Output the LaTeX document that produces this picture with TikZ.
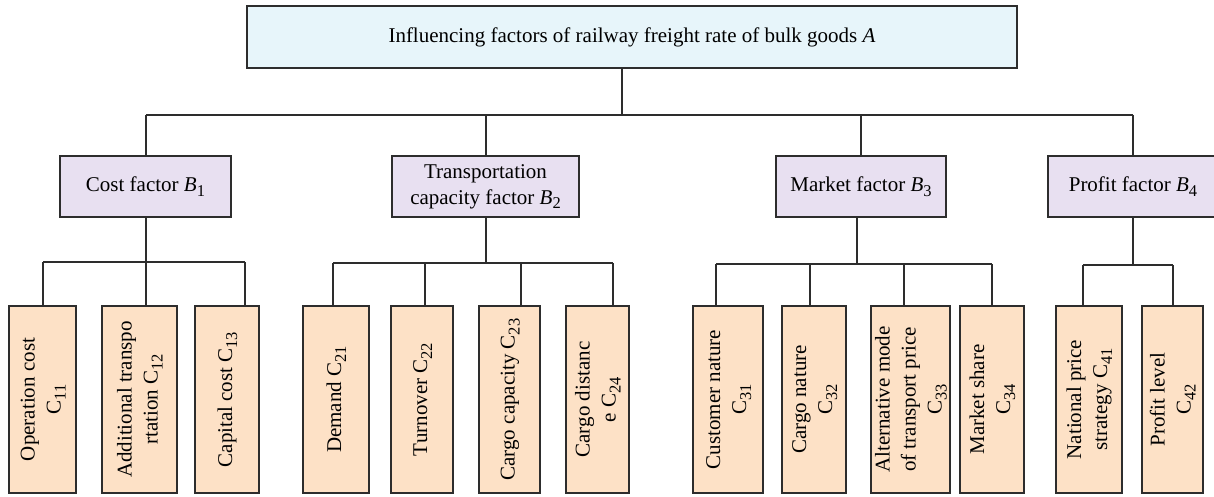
\documentclass[tikz,border=0pt]{standalone}
\usepackage{fontspec}
\usepackage{graphicx}
\setmainfont{Liberation Serif}
\definecolor{afill}{RGB}{231,245,250}
\definecolor{bfill}{RGB}{232,224,241}
\definecolor{cfill}{RGB}{253,225,198}
\definecolor{edge}{RGB}{45,45,45}
% lowered index digits
\newcommand\idx[1]{\raisebox{-0.5ex}{\fontsize{16.5}{16.5}\selectfont #1}}
% vertical label reading bottom to top
\newcommand\vlab[1]{\rotatebox{90}{\begin{tabular}{@{}c@{}}#1\end{tabular}}}
\tikzset{
  base/.style={draw=edge, line width=1.4pt, inner sep=0pt, outer sep=0pt,
    font=\fontsize{21}{26}\selectfont, align=center},
  abox/.style={base, fill=afill, minimum width=770, minimum height=62},
  bbox/.style={base, fill=bfill, minimum height=61},
  cbox/.style={base, fill=cfill, minimum height=187},
  link/.style={draw=edge, line width=1.2pt},
}
\begin{document}
\begin{tikzpicture}[x=1pt, y=-1pt]
\useasboundingbox (0,0) rectangle (1214,497);

% top level
\node[abox] (A) at (632,37) {Influencing factors of railway freight rate of bulk goods \textit{A}};

% second level
\node[bbox, minimum width=171] (B1) at (145.5,186.5) {Cost factor \textit{B}\idx{1}};
\node[bbox, minimum width=187] (B2) at (485.5,186.5) {Transportation\\capacity factor \textit{B}\idx{2}};
\node[bbox, minimum width=170] (B3) at (861,186.5) {Market factor \textit{B}\idx{3}};
\node[bbox, minimum width=170] (B4) at (1133,186.5) {Profit factor \textit{B}\idx{4}};

% third level
\node[cbox, minimum width=67] (C11) at (42.5,399.5) {\vlab{Operation cost\\C\idx{11}}};
\node[cbox, minimum width=75] (C12) at (139.5,399.5) {\vlab{Additional transpo\\rtation C\idx{12}}};
\node[cbox, minimum width=64] (C13) at (227,399.5) {\vlab{Capital cost C\idx{13}}};

\node[cbox, minimum width=66] (C21) at (336,399.5) {\vlab{Demand C\idx{21}}};
\node[cbox, minimum width=62] (C22) at (422,399.5) {\vlab{Turnover C\idx{22}}};
\node[cbox, minimum width=61] (C23) at (509.5,399.5) {\vlab{Cargo capacity C\idx{23}}};
\node[cbox, minimum width=63] (C24) at (597.5,399.5) {\vlab{Cargo distanc\\e C\idx{24}}};

\node[cbox, minimum width=70] (C31) at (728,399.5) {\vlab{Customer nature\\C\idx{31}}};
\node[cbox, minimum width=64] (C32) at (814,399.5) {\vlab{Cargo nature\\C\idx{32}}};
\node[cbox, minimum width=79] (C33) at (910.5,399.5) {\vlab{Alternative mode\\of transport price\\C\idx{33}}};
\node[cbox, minimum width=64] (C34) at (992,399.5) {\vlab{Market share\\C\idx{34}}};

\node[cbox, minimum width=66] (C41) at (1089,399.5) {\vlab{National price\\strategy C\idx{41}}};
\node[cbox, minimum width=61] (C42) at (1172.5,399.5) {\vlab{Profit level\\C\idx{42}}};

% junction points
\coordinate (ja) at (622,115);
\coordinate (jb1) at (146,115);
\coordinate (jb2) at (486,115);
\coordinate (jb3) at (861,115);
\coordinate (jb4) at (1133,115);

\coordinate (t11) at (43,262);   \coordinate (t12) at (146,262);  \coordinate (t13) at (245,262);
\coordinate (t21) at (333,263);  \coordinate (t22) at (425,263);  \coordinate (t23) at (521,263);  \coordinate (t24) at (613,263);
\coordinate (t31) at (716,264);  \coordinate (t32) at (810,264);  \coordinate (t33) at (904,264);  \coordinate (t34) at (992,264);
\coordinate (t41) at (1083,265); \coordinate (t42) at (1173,265);
\coordinate (s3) at (857,264); \coordinate (s4) at (1133,265);

% A to second level
\draw[link] (A.south -| ja) -- (ja);
\draw[link] (jb1) -- (jb4);
\foreach \j/\b in {jb1/B1, jb2/B2, jb3/B3, jb4/B4}
  \draw[link] (\j) -- (\j |- \b.north);

% second level to third level
\draw[link] (B1.south -| t12) -- (t12);
\draw[link] (B2.south -| jb2) -- (jb2 |- t22);
\draw[link] (B3.south -| s3) -- (s3);
\draw[link] (B4.south -| s4) -- (s4);
\draw[link] (t11) -- (t13);
\draw[link] (t21) -- (t24);
\draw[link] (t31) -- (t34);
\draw[link] (t41) -- (t42);
\foreach \t/\c in {t11/C11, t12/C12, t13/C13, t21/C21, t22/C22, t23/C23, t24/C24,
                   t31/C31, t32/C32, t33/C33, t34/C34, t41/C41, t42/C42}
  \draw[link] (\t) -- (\t |- \c.north);
\end{tikzpicture}
\end{document}
